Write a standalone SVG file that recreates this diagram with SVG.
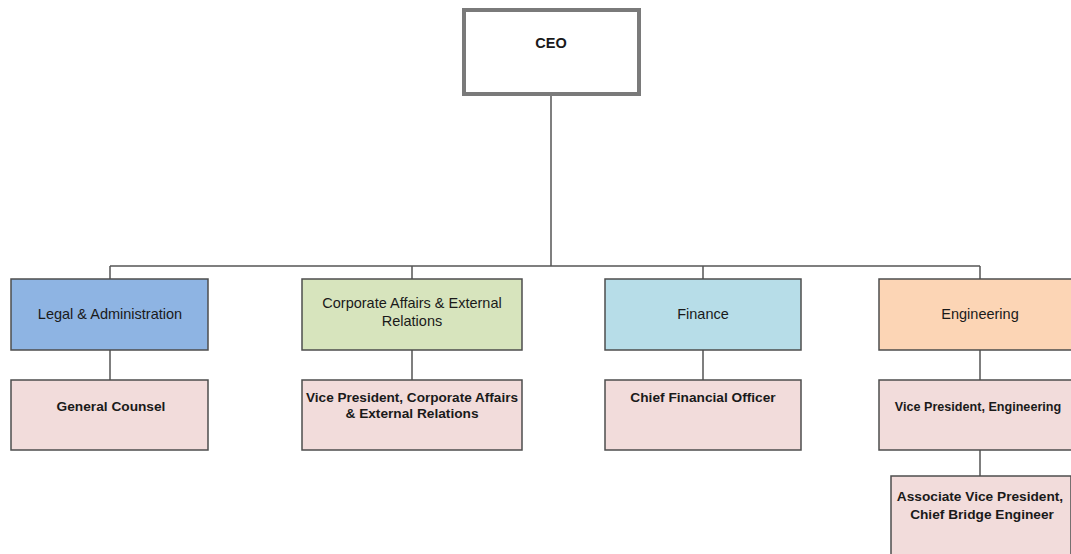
<svg xmlns="http://www.w3.org/2000/svg" width="1071" height="554" viewBox="0 0 1071 554">
<style>
.box{stroke:#4d4d4d;stroke-width:1.5}
.l2{fill:#f2dcdb}
.t{font-family:"Liberation Sans",Arial,sans-serif;font-size:14.5px;fill:#1a1a1a;text-anchor:middle}
.b{font-weight:bold;font-size:13.7px}
.c{fill:none;stroke:#555;stroke-width:1.5}
</style>
<rect width="1071" height="554" fill="#ffffff"/>
<g id="connectors">
<path class="c" d="M551 96V266M110 266H980M110 266V279M412 266V279M703 266V279M980 266V279M110 350V380M412 350V380M703 350V380M980 350V380M980 450V476"/>
</g>
<g id="ceo">
<rect x="464" y="10" width="175" height="84" fill="#fff" stroke="#7a7a7a" stroke-width="4"/>
<text class="t" x="551" y="48" font-weight="bold" font-size="15" fill="#222">CEO</text>
</g>
<g id="legal">
<rect class="box" x="11" y="279" width="197" height="71" fill="#8eb4e3"/>
<text class="t" x="110" y="319">Legal &amp; Administration</text>
</g>
<g id="corporate">
<rect class="box" x="302" y="279" width="220" height="71" fill="#d7e4bd"/>
<text class="t" x="412" y="308">Corporate Affairs &amp; External</text>
<text class="t" x="412" y="326">Relations</text>
</g>
<g id="finance">
<rect class="box" x="605" y="279" width="196" height="71" fill="#b7dde8"/>
<text class="t" x="703" y="319">Finance</text>
</g>
<g id="engineering">
<rect class="box" x="879" y="279" width="202" height="71" fill="#fcd5b5"/>
<text class="t" x="980" y="319">Engineering</text>
</g>
<g id="general-counsel">
<rect class="box l2" x="11" y="380" width="197" height="70"/>
<text class="t b" x="111" y="411">General Counsel</text>
</g>
<g id="vp-corporate">
<rect class="box l2" x="302" y="380" width="220" height="70"/>
<text class="t b" x="412" y="402" textLength="212" lengthAdjust="spacingAndGlyphs">Vice President, Corporate Affairs</text>
<text class="t b" x="412" y="418">&amp; External Relations</text>
</g>
<g id="cfo">
<rect class="box l2" x="605" y="380" width="196" height="70"/>
<text class="t b" x="703" y="402">Chief Financial Officer</text>
</g>
<g id="vp-engineering">
<rect class="box l2" x="879" y="380" width="202" height="70"/>
<text class="t b" x="978" y="411" style="font-size:12.6px">Vice President, Engineering</text>
</g>
<g id="avp-bridge">
<rect class="box l2" x="891" y="476" width="180" height="90"/>
<text class="t b" x="980" y="501">Associate Vice President,</text>
<text class="t b" x="982" y="519">Chief Bridge Engineer</text>
</g>
</svg>
